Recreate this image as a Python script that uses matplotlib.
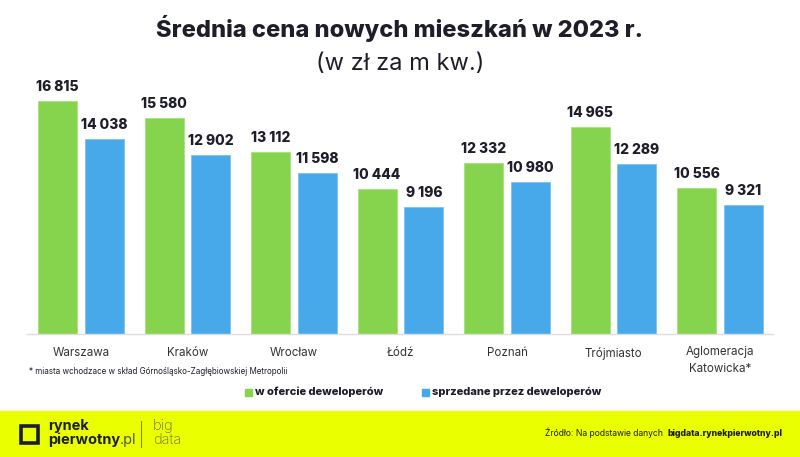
import numpy as np
import matplotlib.pyplot as plt
from matplotlib.patches import Rectangle

# dane: srednia cena m2, 2023
cities = ["Warszawa", "Kraków", "Wrocław", "Łódź", "Poznań", "Trójmiasto", "Aglomeracja\nKatowicka*"]
offer = [16815, 15580, 13112, 10444, 12332, 14965, 10556]
sold = [14038, 12902, 11598, 9196, 10980, 12289, 9321]
series_names = ["w ofercie deweloperów", "sprzedane przez deweloperów"]

GREEN = "#86d44e"
BLUE = "#47a9ea"
DARK = "#1e1e2b"
YELLOW = "#eaff00"

plt.rcParams['font.family'] = ['Inter', 'DejaVu Sans']

fig = plt.figure(figsize=(8, 4.57), dpi=100)
W, H = 800, 457

def fx(px):
    return px / W

def fy(py):
    return 1 - py / H

# axes: baseline at y=334 px, x from 27 to 773
ax = fig.add_axes([fx(27), fy(334), fx(773) - fx(27), fy(80) - fy(334)])
x = np.arange(len(cities))
bw = 0.366
off = 0.22
ax.bar(x - off, offer, bw, color=GREEN, edgecolor="#a6e27c", linewidth=0.6)
ax.bar(x + off, sold, bw, color=BLUE, edgecolor="#7cc3f0", linewidth=0.6)

def fmt(v):
    return "{:,}".format(v).replace(",", " ")

for xi, v in zip(x - off, offer):
    ax.annotate(fmt(v), (xi, v), xytext=(0, 5), textcoords="offset points",
                ha="center", va="bottom", fontsize=10, fontweight="heavy", color=DARK)
for xi, v in zip(x + off, sold):
    ax.annotate(fmt(v), (xi, v), xytext=(0, 5), textcoords="offset points",
                ha="center", va="bottom", fontsize=10, fontweight="heavy", color=DARK)

ax.set_xlim(-0.507, 6.498)
ax.set_ylim(0, 254 / 0.01386)
ax.set_xticks(x)
ax.set_xticklabels(cities, fontsize=8.3, color="#333333", linespacing=1.5)
ax.tick_params(axis="x", length=0, pad=9)
ax.set_yticks([])
for s in ["top", "right", "left"]:
    ax.spines[s].set_visible(False)
ax.spines["bottom"].set_color("#dddddd")
ax.spines["bottom"].set_linewidth(1)

# tytul
fig.text(0.5, fy(28), "Średnia cena nowych mieszkań w 2023 r.", ha="center", va="center",
         fontsize=17, fontweight="heavy", color=DARK)
fig.text(0.5, fy(64), "(w zł za m kw.)", ha="center", va="center",
         fontsize=17, color=DARK)

# przypis
fig.text(fx(29), fy(372), "* miasta wchodzace w skład Górnośląsko-Zagłębiowskiej Metropolii",
         ha="left", va="center", fontsize=5.8, color=DARK)

# legenda
for sq_x, txt_x, col, name in [(245, 255, GREEN, series_names[0]), (422, 432, BLUE, series_names[1])]:
    fig.patches.append(Rectangle((fx(sq_x), fy(396)), fx(7), 7 / H, color=col,
                                 transform=fig.transFigure, figure=fig))
    fig.text(fx(txt_x), fy(392), name, ha="left", va="center", fontsize=8,
             fontweight="heavy", color=DARK)

# stopka
fig.patches.append(Rectangle((0, 0), 1, fy(411), color=YELLOW,
                             transform=fig.transFigure, figure=fig, zorder=0))
# logo
fig.patches.append(Rectangle((fx(21), fy(443)), fx(17), 17 / H, fill=False, edgecolor=DARK,
                             linewidth=2.6, transform=fig.transFigure, figure=fig))
fig.text(fx(48), fy(426), "rynek", ha="left", va="center", fontsize=10.5, fontweight="bold",
         color=DARK)
pw = fig.text(fx(48), fy(440), "pierwotny", ha="left", va="center", fontsize=10.5,
              fontweight="bold", color=DARK)
fig.canvas.draw()
pw_end = pw.get_window_extent().x1 / fig.dpi / fig.get_figwidth()
fig.text(pw_end, fy(440), ".pl", ha="left", va="center", fontsize=10.5, color="#555555")
fig.lines.append(plt.Line2D([fx(141), fx(141)], [fy(421), fy(447)], color="#8a8a20",
                            linewidth=0.8, transform=fig.transFigure))
fig.text(fx(153), fy(426), "big", ha="left", va="center", fontsize=10.5, color="#6b6b3a",
         fontweight="light")
fig.text(fx(153), fy(440), "data", ha="left", va="center", fontsize=10.5, color="#6b6b3a",
         fontweight="light")

src = fig.text(fx(782), fy(433), "bigdata.rynekpierwotny.pl", ha="right", va="center",
               fontsize=6.2, fontweight="heavy", color=DARK)
fig.canvas.draw()
bb = src.get_window_extent()
fig.text(bb.x0 / fig.dpi / fig.get_figwidth() - 0.005, fy(433), "Źródło: Na podstawie danych",
         ha="right", va="center", fontsize=6.2, color=DARK)

fig.savefig("out.png", dpi=100)
